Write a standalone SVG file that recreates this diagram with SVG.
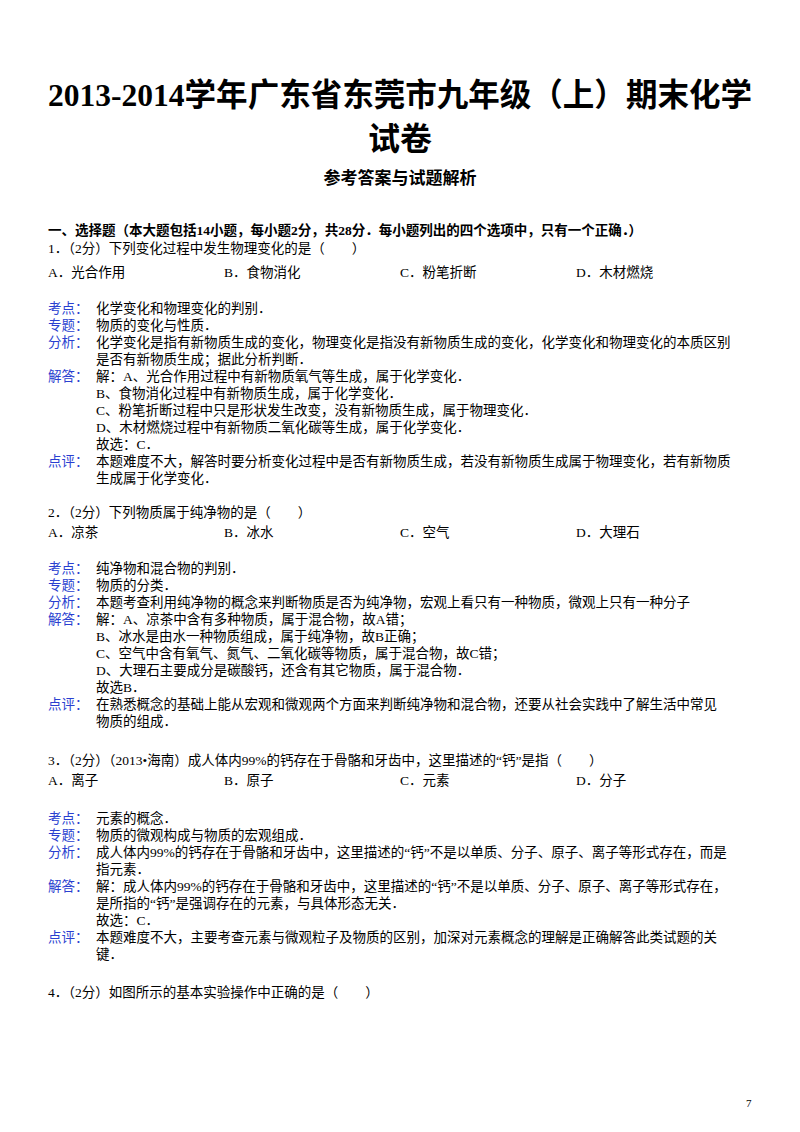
<svg xmlns="http://www.w3.org/2000/svg" width="800" height="1132" viewBox="0 0 800 1132">
<style>
text{font-family:"Liberation Serif","Noto Sans CJK SC",serif;font-size:13.5px;fill:#000}
.t{font-size:32px;font-weight:bold;text-anchor:middle}
.s{font-size:17px;font-weight:bold;text-anchor:middle}
.h{font-weight:bold}
.b{fill:#2a3fd0}
</style>
<rect width="800" height="1132" fill="#fff"/>
<text class="t" x="400" y="106" textLength="704" lengthAdjust="spacingAndGlyphs">2013-2014学年广东省东莞市九年级（上）期末化学</text>
<text class="t" x="400" y="150">试卷</text>
<text class="s" x="400" y="184">参考答案与试题解析</text>
<text class="h" x="48" y="235">一、选择题（本大题包括14小题，每小题2分，共28分．每小题列出的四个选项中，只有一个正确．）</text>
<text x="48" y="253">1．（2分）下列变化过程中发生物理变化的是（　　）</text>
<text x="48" y="277">A．光合作用</text><text x="224" y="277">B．食物消化</text><text x="400" y="277">C．粉笔折断</text><text x="576" y="277">D．木材燃烧</text>
<text class="b" x="48" y="313">考点：</text><text x="96" y="313">化学变化和物理变化的判别．</text>
<text class="b" x="48" y="330">专题：</text><text x="96" y="330">物质的变化与性质．</text>
<text class="b" x="48" y="347">分析：</text><text x="96" y="347">化学变化是指有新物质生成的变化，物理变化是指没有新物质生成的变化，化学变化和物理变化的本质区别</text>
<text x="96" y="364">是否有新物质生成；据此分析判断．</text>
<text class="b" x="48" y="381">解答：</text><text x="96" y="381">解：A、光合作用过程中有新物质氧气等生成，属于化学变化．</text>
<text x="96" y="398">B、食物消化过程中有新物质生成，属于化学变化．</text>
<text x="96" y="415">C、粉笔折断过程中只是形状发生改变，没有新物质生成，属于物理变化．</text>
<text x="96" y="432">D、木材燃烧过程中有新物质二氧化碳等生成，属于化学变化．</text>
<text x="96" y="449">故选：C．</text>
<text class="b" x="48" y="466">点评：</text><text x="96" y="466">本题难度不大，解答时要分析变化过程中是否有新物质生成，若没有新物质生成属于物理变化，若有新物质</text>
<text x="96" y="483">生成属于化学变化．</text>
<text x="48" y="517">2．（2分）下列物质属于纯净物的是（　　）</text>
<text x="48" y="537">A．凉茶</text><text x="224" y="537">B．冰水</text><text x="400" y="537">C．空气</text><text x="576" y="537">D．大理石</text>
<text class="b" x="48" y="573">考点：</text><text x="96" y="573">纯净物和混合物的判别．</text>
<text class="b" x="48" y="590">专题：</text><text x="96" y="590">物质的分类．</text>
<text class="b" x="48" y="607">分析：</text><text x="96" y="607">本题考查利用纯净物的概念来判断物质是否为纯净物，宏观上看只有一种物质，微观上只有一种分子</text>
<text class="b" x="48" y="624">解答：</text><text x="96" y="624">解：A、凉茶中含有多种物质，属于混合物，故A错；</text>
<text x="96" y="641">B、冰水是由水一种物质组成，属于纯净物，故B正确；</text>
<text x="96" y="658">C、空气中含有氧气、氮气、二氧化碳等物质，属于混合物，故C错；</text>
<text x="96" y="675">D、大理石主要成分是碳酸钙，还含有其它物质，属于混合物．</text>
<text x="96" y="692">故选B．</text>
<text class="b" x="48" y="709">点评：</text><text x="96" y="709">在熟悉概念的基础上能从宏观和微观两个方面来判断纯净物和混合物，还要从社会实践中了解生活中常见</text>
<text x="96" y="726">物质的组成．</text>
<text x="48" y="765">3．（2分）（2013•海南）成人体内99%的钙存在于骨骼和牙齿中，这里描述的“钙”是指（　　）</text>
<text x="48" y="785">A．离子</text><text x="224" y="785">B．原子</text><text x="400" y="785">C．元素</text><text x="576" y="785">D．分子</text>
<text class="b" x="48" y="823">考点：</text><text x="96" y="823">元素的概念．</text>
<text class="b" x="48" y="840">专题：</text><text x="96" y="840">物质的微观构成与物质的宏观组成．</text>
<text class="b" x="48" y="857">分析：</text><text x="96" y="857">成人体内99%的钙存在于骨骼和牙齿中，这里描述的“钙”不是以单质、分子、原子、离子等形式存在，而是</text>
<text x="96" y="874">指元素．</text>
<text class="b" x="48" y="891">解答：</text><text x="96" y="891">解：成人体内99%的钙存在于骨骼和牙齿中，这里描述的“钙”不是以单质、分子、原子、离子等形式存在，</text>
<text x="96" y="908">是所指的“钙”是强调存在的元素，与具体形态无关．</text>
<text x="96" y="925">故选：C．</text>
<text class="b" x="48" y="942">点评：</text><text x="96" y="942">本题难度不大，主要考查元素与微观粒子及物质的区别，加深对元素概念的理解是正确解答此类试题的关</text>
<text x="96" y="959">键．</text>
<text x="48" y="997">4．（2分）如图所示的基本实验操作中正确的是（　　）</text>
<text x="746" y="1107" style="font-size:11px">7</text>
</svg>
